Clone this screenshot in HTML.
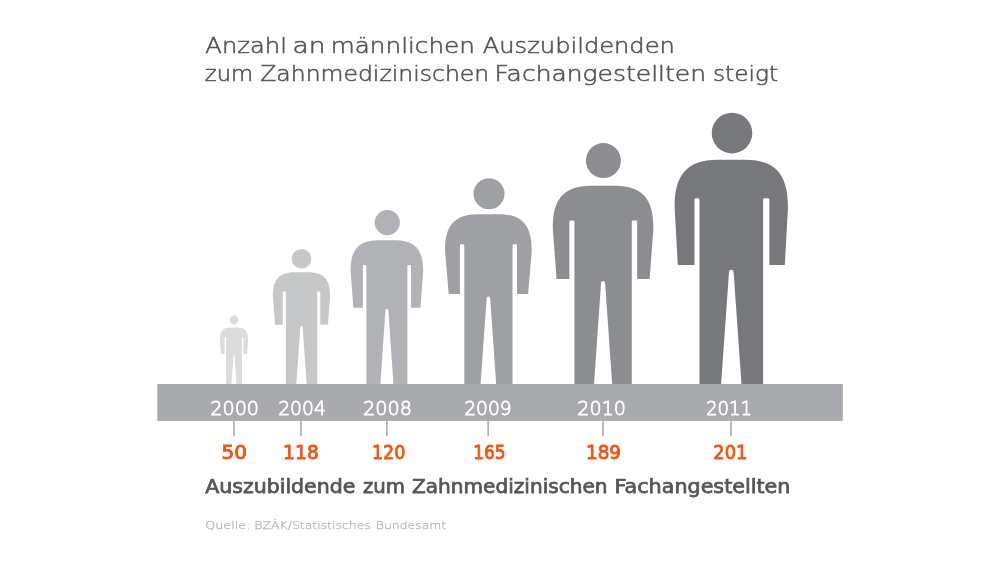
<!DOCTYPE html>
<html lang="de">
<head>
<meta charset="utf-8">
<title>Auszubildende zum Zahnmedizinischen Fachangestellten</title>
<style>
html,body{margin:0;padding:0;background:#ffffff;}
body{width:1000px;height:562px;overflow:hidden;}
svg{display:block;font-family:"DejaVu Sans", "Liberation Sans", sans-serif;}
</style>
</head>
<body>
<svg width="1000" height="562" viewBox="0 0 1000 562">
<defs>
<filter id="soft" x="0" y="0" width="1000" height="562" filterUnits="userSpaceOnUse"><feGaussianBlur stdDeviation="0.6"/></filter>
<filter id="b1" x="200" y="300" width="70" height="100" filterUnits="userSpaceOnUse"><feGaussianBlur stdDeviation="0.55"/></filter>
<filter id="b2" x="260" y="230" width="90" height="170" filterUnits="userSpaceOnUse"><feGaussianBlur stdDeviation="0.5"/></filter>
<filter id="softer" x="0" y="0" width="1000" height="562" filterUnits="userSpaceOnUse"><feGaussianBlur stdDeviation="0.62"/></filter>
</defs>
<rect x="0" y="0" width="1000" height="562" fill="#ffffff"/>
<g filter="url(#soft)">
<g>
<g filter="url(#b1)"><circle cx="234.00" cy="320.00" r="4.40" fill="#dbdcde"/><path d="M231.00 327.57L237.00 327.57C245.50 327.44 248.30 331.79 248.15 339.97L247.10 354.08L243.38 354.08L243.38 337.66Q243.38 337.28 243.00 337.28L242.32 337.28Q241.95 337.28 241.95 337.66L241.95 390.00L236.68 390.00L236.55 384.00L234.57 355.27Q234.53 354.69 234.00 354.69Q233.47 354.69 233.43 355.27L231.45 384.00L231.32 390.00L226.05 390.00L226.05 337.66Q226.05 337.28 225.68 337.28L225.00 337.28Q224.62 337.28 224.62 337.66L224.62 354.08L220.90 354.08L219.85 339.97C219.70 331.79 222.50 327.44 231.00 327.57Z" fill="#dbdcde"/></g>
<g filter="url(#b2)"><circle cx="301.50" cy="258.70" r="9.80" fill="#c6c7c9"/><path d="M295.44 272.30L307.56 272.30C324.73 272.05 330.39 280.67 330.08 296.85L327.96 324.79L320.29 324.79L320.29 292.27Q320.29 291.52 319.53 291.52L317.91 291.52Q317.15 291.52 317.15 292.27L317.15 390.00L306.90 390.00L306.65 384.00L302.66 327.38Q302.56 326.23 301.50 326.23Q300.44 326.23 300.34 327.38L296.35 384.00L296.10 390.00L285.85 390.00L285.85 292.27Q285.85 291.52 285.09 291.52L283.47 291.52Q282.71 291.52 282.71 292.27L282.71 324.79L275.04 324.79L272.92 296.85C272.61 280.67 278.27 272.05 295.44 272.30Z" fill="#c6c7c9"/></g>
<circle cx="387.30" cy="222.60" r="12.60" fill="#b1b2b5"/><path d="M379.21 240.22L394.59 240.22C416.36 239.90 423.54 250.99 423.15 271.82L420.46 307.79L410.98 307.79L410.98 265.93Q410.98 264.97 410.02 264.97L408.36 264.97Q407.40 264.97 407.40 265.93L407.40 390.00L393.75 390.00L393.43 384.00L388.37 310.48Q388.25 309.00 386.90 309.00Q385.55 309.00 385.43 310.48L380.37 384.00L380.05 390.00L366.40 390.00L366.40 265.93Q366.40 264.97 365.44 264.97L363.84 264.97Q362.88 264.97 362.88 265.93L362.88 307.79L353.34 307.79L350.65 271.82C350.26 250.99 357.44 239.90 379.21 240.22Z" fill="#b1b2b5"/>
<circle cx="489.00" cy="193.70" r="15.50" fill="#9fa0a4"/><path d="M479.22 214.20L497.58 214.20C523.59 213.83 532.16 226.92 531.70 251.53L528.10 293.99L517.01 293.99L517.01 245.47Q517.01 244.33 515.86 244.33L513.64 244.33Q512.50 244.33 512.50 245.47L512.50 390.00L496.59 390.00L496.20 384.00L490.16 298.31Q490.01 296.57 488.40 296.57Q486.79 296.57 486.64 298.31L480.60 384.00L480.21 390.00L464.30 390.00L464.30 245.47Q464.30 244.33 463.15 244.33L461.09 244.33Q459.94 244.33 459.94 245.47L459.94 293.99L448.70 293.99L445.10 251.53C444.64 226.92 453.21 213.83 479.22 214.20Z" fill="#9fa0a4"/>
<circle cx="603.40" cy="160.60" r="17.50" fill="#8c8d91"/><path d="M592.44 185.72L613.76 185.72C643.95 185.28 653.89 200.57 653.36 229.30L649.63 278.89L637.20 278.89L637.20 221.79Q637.20 220.46 635.87 220.46L633.11 220.46Q631.78 220.46 631.78 221.79L631.78 390.00L612.60 390.00L612.16 384.00L605.14 283.05Q604.96 281.01 603.10 281.01Q601.24 281.01 601.06 283.05L594.04 384.00L593.60 390.00L574.42 390.00L574.42 221.79Q574.42 220.46 573.09 220.46L570.69 220.46Q569.36 220.46 569.36 221.79L569.36 278.89L556.57 278.89L552.84 229.30C552.31 200.57 562.25 185.28 592.44 185.72Z" fill="#8c8d91"/>
<circle cx="732.00" cy="133.10" r="20.30" fill="#77787c"/><path d="M719.30 159.70L743.30 159.70C777.30 159.20 788.50 176.50 787.90 209.00L784.80 265.10L769.40 265.10L769.40 199.80Q769.40 198.30 767.90 198.30L764.60 198.30Q763.10 198.30 763.10 199.80L763.10 390.00L742.00 390.00L741.50 384.00L733.60 272.00Q733.40 269.70 731.30 269.70Q729.20 269.70 729.00 272.00L721.10 384.00L720.60 390.00L699.50 390.00L699.50 199.80Q699.50 198.30 698.00 198.30L696.00 198.30Q694.50 198.30 694.50 199.80L694.50 265.10L677.80 265.10L674.70 209.00C674.10 176.50 685.30 159.20 719.30 159.70Z" fill="#77787c"/>
</g>
<rect x="157.3" y="384" width="685.5" height="36.9" fill="#a9aaad"/>
<g>
<rect x="233.2" y="421" width="1.5" height="15" fill="#a6a7aa"/>
<rect x="300.2" y="421" width="1.5" height="15" fill="#a6a7aa"/>
<rect x="386.1" y="421" width="1.5" height="15" fill="#a6a7aa"/>
<rect x="487.4" y="421" width="1.5" height="15" fill="#a6a7aa"/>
<rect x="602.2" y="421" width="1.5" height="15" fill="#a6a7aa"/>
<rect x="730.2" y="421" width="1.5" height="15" fill="#a6a7aa"/>
</g>
</g>
<g filter="url(#softer)">
<text y="52.50" font-size="21.5" font-family="'DejaVu Sans Light', 'DejaVu Sans', 'Liberation Sans', sans-serif" fill="#535456" stroke="#535456" stroke-width="0.55"><tspan x="205.38" textLength="81.50" lengthAdjust="spacingAndGlyphs">Anzahl</tspan> <tspan x="292.41" textLength="33.07" lengthAdjust="spacingAndGlyphs">an</tspan> <tspan x="330.73" textLength="144.13" lengthAdjust="spacingAndGlyphs">männlichen</tspan> <tspan x="482.80" textLength="192.03" lengthAdjust="spacingAndGlyphs">Auszubildenden</tspan></text>
<text y="81.20" font-size="21.5" font-family="'DejaVu Sans Light', 'DejaVu Sans', 'Liberation Sans', sans-serif" fill="#535456" stroke="#535456" stroke-width="0.55"><tspan x="204.78" textLength="48.52" lengthAdjust="spacingAndGlyphs">zum</tspan> <tspan x="260.19" textLength="229.04" lengthAdjust="spacingAndGlyphs">Zahnmedizinischen</tspan> <tspan x="494.53" textLength="211.54" lengthAdjust="spacingAndGlyphs">Fachangestellten</tspan> <tspan x="712.98" textLength="65.04" lengthAdjust="spacingAndGlyphs">steigt</tspan></text>
<text y="414.70" font-size="19.8" font-family="'DejaVu Sans Light', 'DejaVu Sans', 'Liberation Sans', sans-serif" fill="#ffffff" stroke="#ffffff" stroke-width="0.8"><tspan x="210.35" textLength="48.68" lengthAdjust="spacingAndGlyphs">2000</tspan> <tspan x="278.18" textLength="47.63" lengthAdjust="spacingAndGlyphs">2004</tspan> <tspan x="362.96" textLength="48.91" lengthAdjust="spacingAndGlyphs">2008</tspan> <tspan x="464.17" textLength="47.47" lengthAdjust="spacingAndGlyphs">2009</tspan> <tspan x="577.36" textLength="48.68" lengthAdjust="spacingAndGlyphs">2010</tspan> <tspan x="705.95" textLength="46.10" lengthAdjust="spacingAndGlyphs">2011</tspan></text>
<text y="458.60" font-size="20.3" font-family="'DejaVu Sans', 'Liberation Sans', sans-serif" fill="#f4540f" stroke="#f4540f" stroke-width="0.9"><tspan x="221.54" textLength="25.56" lengthAdjust="spacingAndGlyphs">50</tspan> <tspan x="283.10" textLength="35.72" lengthAdjust="spacingAndGlyphs">118</tspan> <tspan x="371.95" textLength="33.50" lengthAdjust="spacingAndGlyphs">120</tspan> <tspan x="473.15" textLength="32.54" lengthAdjust="spacingAndGlyphs">165</tspan> <tspan x="585.94" textLength="35.13" lengthAdjust="spacingAndGlyphs">189</tspan> <tspan x="713.32" textLength="34.20" lengthAdjust="spacingAndGlyphs">201</tspan></text>
<text y="493.00" font-size="19.5" font-family="'DejaVu Sans', 'Liberation Sans', sans-serif" fill="#55565a" stroke="#55565a" stroke-width="0.75"><tspan x="205.20" textLength="150.21" lengthAdjust="spacingAndGlyphs">Auszubildende</tspan> <tspan x="363.00" textLength="42.07" lengthAdjust="spacingAndGlyphs">zum</tspan> <tspan x="412.00" textLength="195.61" lengthAdjust="spacingAndGlyphs">Zahnmedizinischen</tspan> <tspan x="614.58" textLength="175.84" lengthAdjust="spacingAndGlyphs">Fachangestellten</tspan></text>
<text y="528.70" font-size="11.2" font-family="'DejaVu Sans Light', 'DejaVu Sans', 'Liberation Sans', sans-serif" fill="#b2b3b5" stroke="#b2b3b5" stroke-width="0.25"><tspan x="205.19" textLength="45.27" lengthAdjust="spacingAndGlyphs">Quelle:</tspan> <tspan x="254.38" textLength="116.43" lengthAdjust="spacingAndGlyphs">BZÄK/Statistisches</tspan> <tspan x="375.76" textLength="70.47" lengthAdjust="spacingAndGlyphs">Bundesamt</tspan></text>
</g>
</svg>
</body>
</html>
